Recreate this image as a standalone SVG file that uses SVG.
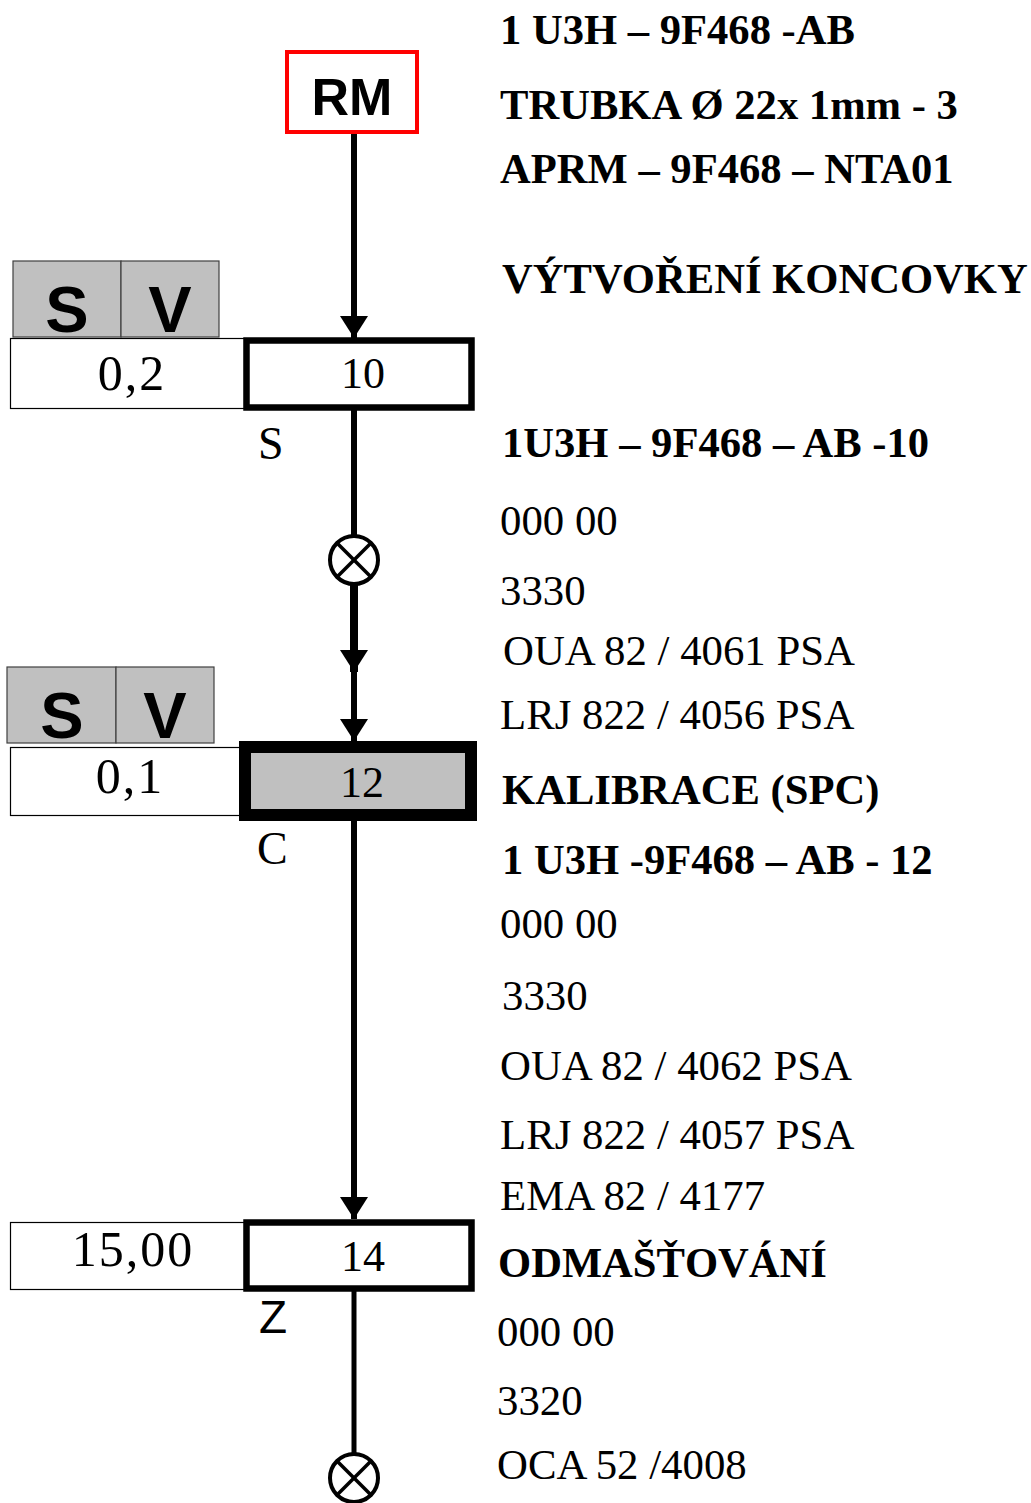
<svg xmlns="http://www.w3.org/2000/svg" width="1031" height="1503" viewBox="0 0 1031 1503">
<style>
.bg{fill:#ffffff}
.node{fill:#ffffff;stroke:#000;stroke-width:6.5}
.num{font-family:"Liberation Serif","Times New Roman",serif;font-size:44px;fill:#000;text-anchor:middle}
.val{font-family:"Liberation Serif","Times New Roman",serif;font-size:50px;fill:#000;text-anchor:middle;letter-spacing:2px}
.valbox{fill:#ffffff;stroke:#000;stroke-width:1.2}
.sv{fill:#c0c0c0;stroke:#404040;stroke-width:1.2}
.svt{font-family:"Liberation Sans",Arial,sans-serif;font-weight:bold;font-size:65px;fill:#000;text-anchor:middle}
.lbl{font-family:"Liberation Serif","Times New Roman",serif;font-size:46px;fill:#000}
.lbls{font-family:"Liberation Sans",Arial,sans-serif;font-size:46px;fill:#000}
.tb{font-family:"Liberation Serif","Times New Roman",serif;font-weight:bold;font-size:42.6px;fill:#000}
.tr{font-family:"Liberation Serif","Times New Roman",serif;font-size:42.8px;fill:#000}
.conn{stroke:#000;fill:none}
.circ{fill:#fff;stroke:#000;stroke-width:4}
</style>
<defs>
<marker id="arr" markerUnits="userSpaceOnUse" markerWidth="22" markerHeight="28" refX="22" refY="14" orient="auto" viewBox="0 0 22 28">
<path d="M0,0 L22,14 L0,28 z" fill="#000"/>
</marker>
</defs>
<rect class="bg" x="0" y="0" width="1031" height="1503"/>

<g id="connectors">
<line class="conn" x1="354" y1="132" x2="354" y2="338" stroke-width="6" marker-end="url(#arr)"/>
<line class="conn" x1="354" y1="408" x2="354" y2="536" stroke-width="6"/>
<line class="conn" x1="354" y1="584" x2="354" y2="672" stroke-width="8" marker-end="url(#arr)"/>
<line class="conn" x1="354" y1="670" x2="354" y2="741" stroke-width="6" marker-end="url(#arr)"/>
<line class="conn" x1="354" y1="820" x2="354" y2="1219" stroke-width="6" marker-end="url(#arr)"/>
<line class="conn" x1="354" y1="1286" x2="354" y2="1455" stroke-width="5"/>
</g>

<g id="node-rm">
<rect x="287" y="52" width="130" height="80" fill="#fff" stroke="#ff0000" stroke-width="4"/>
<text x="352" y="115" text-anchor="middle" font-family="'Liberation Sans',Arial,sans-serif" font-weight="bold" font-size="52">RM</text>
</g>

<g id="sv-1">
<rect class="sv" x="13" y="261" width="108" height="76"/>
<rect class="sv" x="121" y="261" width="98" height="76"/>
<text class="svt" x="67" y="332">S</text>
<text class="svt" x="170" y="332">V</text>
</g>

<g id="val-10">
<rect class="valbox" x="10.5" y="338.5" width="234" height="70"/>
<text class="val" x="132" y="390">0,2</text>
</g>

<g id="node-10">
<rect class="node" x="246.5" y="340.5" width="225" height="67"/>
<text class="num" x="363" y="388">10</text>
<text class="lbl" x="258" y="459">S</text>
</g>

<g id="mark-1">
<circle class="circ" cx="354" cy="560" r="24"/>
<line x1="337" y1="543" x2="371" y2="577" stroke="#000" stroke-width="3.5"/>
<line x1="371" y1="543" x2="337" y2="577" stroke="#000" stroke-width="3.5"/>
</g>

<g id="sv-2">
<rect class="sv" x="7" y="667" width="109" height="76"/>
<rect class="sv" x="116" y="667" width="98" height="76"/>
<text class="svt" x="62" y="738">S</text>
<text class="svt" x="165" y="738">V</text>
</g>

<g id="val-12">
<rect class="valbox" x="10.5" y="747.5" width="230" height="68"/>
<text class="val" x="130" y="793">0,1</text>
</g>

<g id="node-12">
<rect x="245" y="747" width="226" height="68" fill="#c0c0c0" stroke="#000" stroke-width="12"/>
<text class="num" x="362" y="797">12</text>
<text class="lbl" x="257" y="864">C</text>
</g>

<g id="val-14">
<rect class="valbox" x="10.5" y="1222.5" width="234" height="67"/>
<text class="val" x="133" y="1266">15,00</text>
</g>

<g id="node-14">
<rect class="node" x="246.5" y="1222.5" width="225" height="66"/>
<text class="num" x="363" y="1271">14</text>
<text class="lbls" x="259" y="1333">Z</text>
</g>

<g id="mark-2">
<circle class="circ" cx="354" cy="1478" r="24"/>
<line x1="337" y1="1461" x2="371" y2="1495" stroke="#000" stroke-width="3.5"/>
<line x1="371" y1="1461" x2="337" y2="1495" stroke="#000" stroke-width="3.5"/>
</g>

<g id="texts">
<text class="tb" x="500" y="44">1 U3H – 9F468 -AB</text>
<text class="tb" x="500" y="119">TRUBKA Ø 22x 1mm - 3</text>
<text class="tb" x="500" y="183">APRM – 9F468 – NTA01</text>
<text class="tb" x="502" y="293">VÝTVOŘENÍ KONCOVKY</text>
<text class="tb" x="502" y="457">1U3H – 9F468 – AB -10</text>
<text class="tr" x="500" y="535">000 00</text>
<text class="tr" x="500" y="605">3330</text>
<text class="tr" x="503" y="665">OUA 82 / 4061 PSA</text>
<text class="tr" x="500" y="729">LRJ 822 / 4056 PSA</text>
<text class="tb" x="502" y="804">KALIBRACE (SPC)</text>
<text class="tb" x="502" y="874">1 U3H -9F468 – AB - 12</text>
<text class="tr" x="500" y="938">000 00</text>
<text class="tr" x="502" y="1010">3330</text>
<text class="tr" x="500" y="1080">OUA 82 / 4062 PSA</text>
<text class="tr" x="500" y="1149">LRJ 822 / 4057 PSA</text>
<text class="tr" x="500" y="1210">EMA 82 / 4177</text>
<text class="tb" x="498" y="1277">ODMAŠŤOVÁNÍ</text>
<text class="tr" x="497" y="1346">000 00</text>
<text class="tr" x="497" y="1415">3320</text>
<text class="tr" x="497" y="1479">OCA 52 /4008</text>
</g>
</svg>
